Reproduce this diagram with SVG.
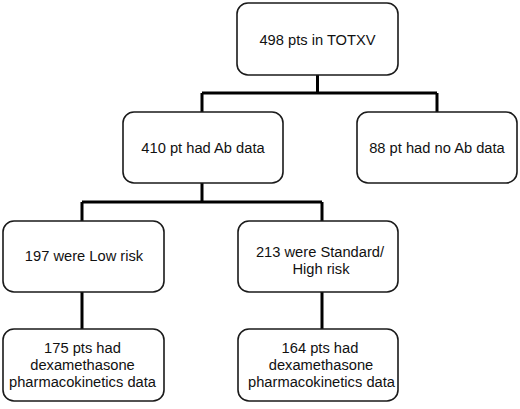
<svg xmlns="http://www.w3.org/2000/svg" width="520" height="409" viewBox="0 0 520 409">
<style>
.box{fill:#fff;stroke:#1a1a1a;stroke-width:1.6}
.t{font-family:"Liberation Sans",Arial,sans-serif;font-size:14.7px;fill:#111;text-anchor:middle}
.c{fill:none;stroke:#000;stroke-width:3}
</style>
<rect width="520" height="409" fill="#fff"/>
<g id="connectors">
<path class="c" d="M317.5 75V93M202 93H437M202 93V112M437 93V112"/>
<path class="c" d="M202 183V202M82 202H322M82 202V221M322 202V221"/>
<path class="c" d="M82 292V329M322 292V329"/>
</g>
<g id="n1"><rect class="box" x="237" y="3" width="161" height="72" rx="11"/><text class="t" x="317.5" y="45">498 pts in TOTXV</text></g>
<g id="n2"><rect class="box" x="123" y="112" width="160" height="71" rx="11"/><text class="t" x="203" y="153">410 pt had Ab data</text></g>
<g id="n3"><rect class="box" x="357" y="112" width="160" height="71" rx="11"/><text class="t" x="437" y="153">88 pt had no Ab data</text></g>
<g id="n4"><rect class="box" x="3" y="221" width="161" height="71" rx="11"/><text class="t" x="84" y="261">197 were Low risk</text></g>
<g id="n5"><rect class="box" x="238" y="221" width="160" height="71" rx="11"/><text class="t" x="320" y="257">213 were Standard/</text><text class="t" x="321" y="274">High risk</text></g>
<g id="n6"><rect class="box" x="3" y="329" width="161" height="72" rx="11"/><text class="t" x="82.5" y="353">175 pts had</text><text class="t" x="82.5" y="370">dexamethasone</text><text class="t" x="82.5" y="387">pharmacokinetics data</text></g>
<g id="n7"><rect class="box" x="238" y="329" width="160" height="72" rx="11"/><text class="t" x="320" y="353">164 pts had</text><text class="t" x="321" y="370">dexamethasone</text><text class="t" x="321.5" y="387">pharmacokinetics data</text></g>
</svg>
